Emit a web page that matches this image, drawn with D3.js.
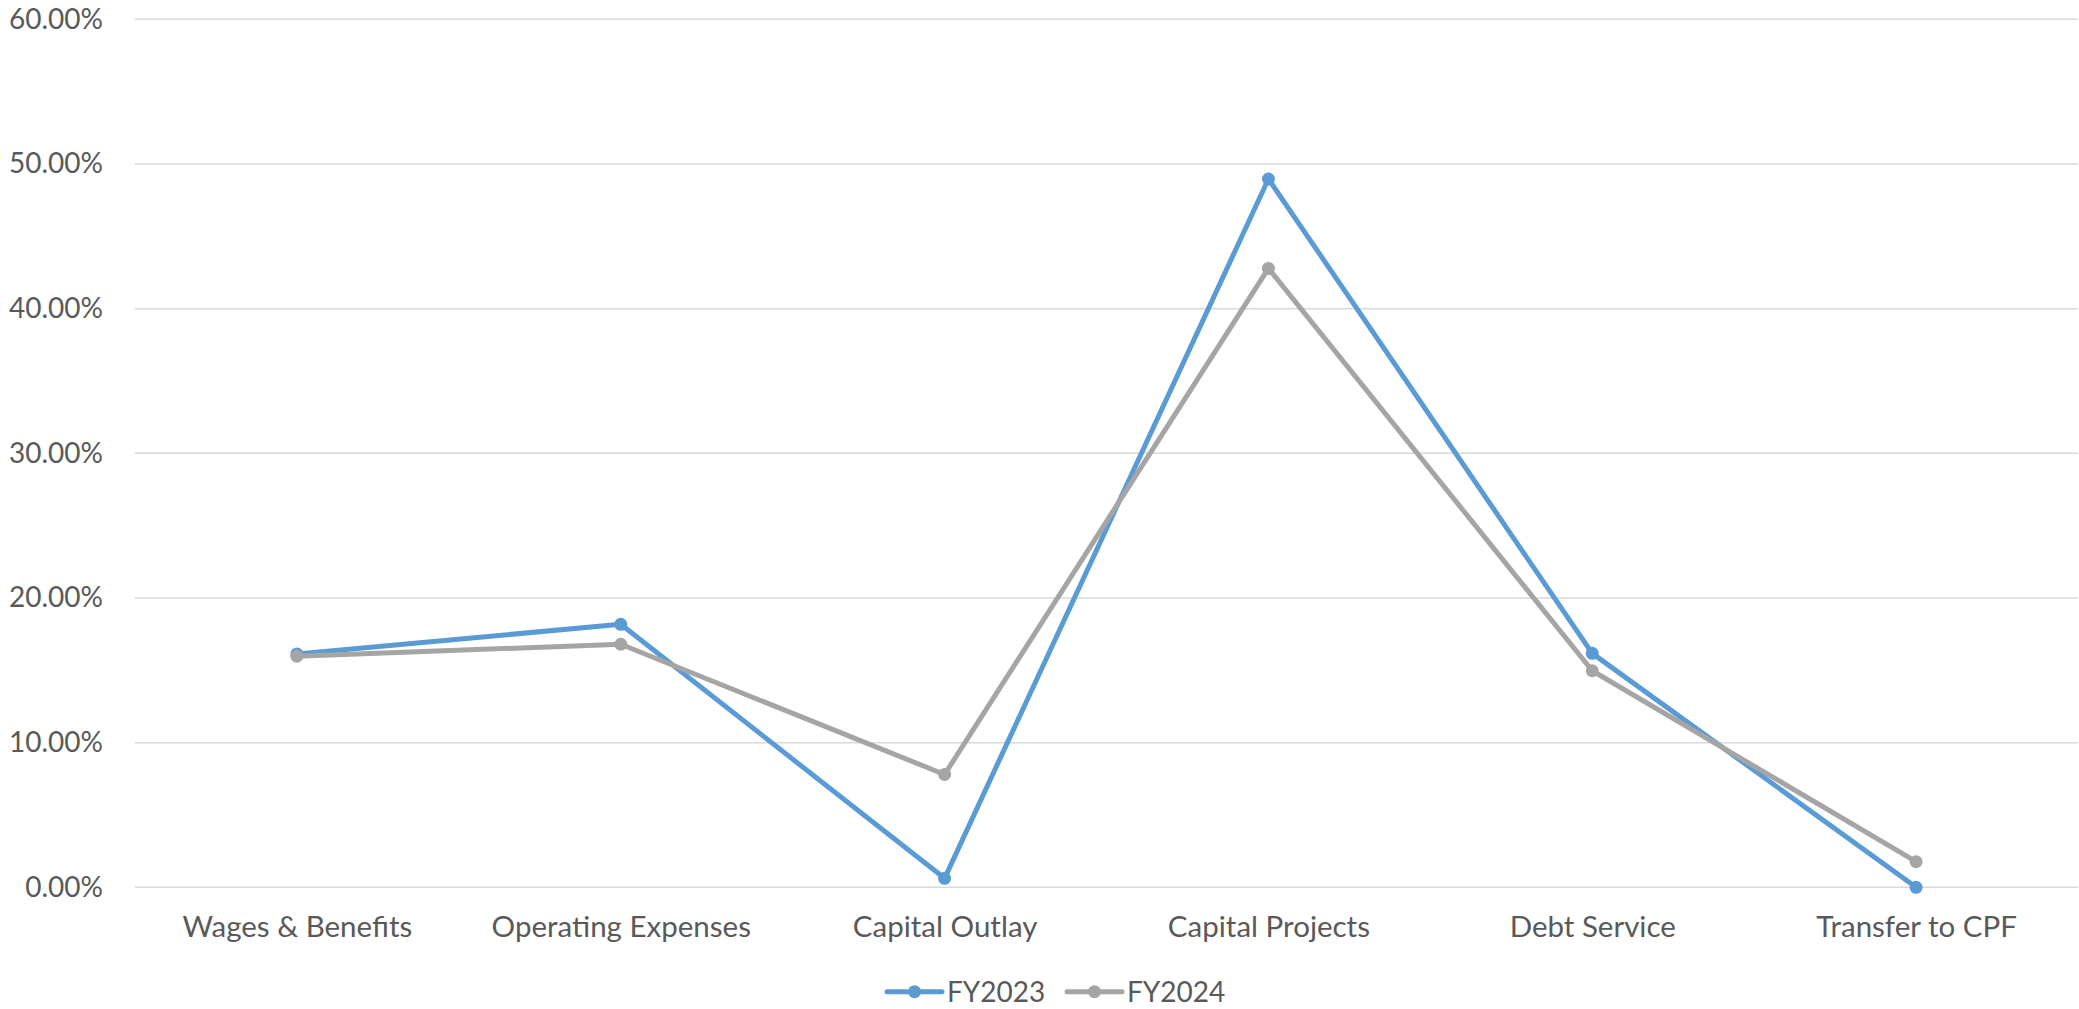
<!DOCTYPE html>
<html>
<head>
<meta charset="utf-8">
<script src="https://cdn.jsdelivr.net/npm/d3@7"></script>
<style>
  html, body { margin: 0; padding: 0; background: #fff; }
  svg { display: block; }
  text { font-family: Lato, "Open Sans", sans-serif; fill: #595959; }
</style>
</head>
<body>
<svg id="chart" width="2079" height="1009"></svg>
<script>
// Share of spending by category, two fiscal years
const categories = ["Wages & Benefits", "Operating Expenses", "Capital Outlay", "Capital Projects", "Debt Service", "Transfer to CPF"];
const fy2023 = [0.1613, 0.1818, 0.0062, 0.4896, 0.1617, 0.0000];
const fy2024 = [0.1597, 0.1680, 0.0780, 0.4278, 0.1497, 0.0177];
const seriesNames = ["FY2023", "FY2024"];
const seriesColors = ["#5B9BD5", "#A5A5A5"];
const yTicks = [0, 0.1, 0.2, 0.3, 0.4, 0.5, 0.6];

const svg = d3.select("#chart");
const plotLeft = 135, plotRight = 2078, plotTop = 19.3, plotBottom = 887.3;

const x = d3.scalePoint().domain(categories).range([plotLeft, plotRight]).padding(0.5);
const y = d3.scaleLinear().domain([0, 0.6]).range([plotBottom, plotTop]);
const fmt = d3.format(".2%");

// horizontal gridlines
svg.append("g")
  .selectAll("line")
  .data(yTicks)
  .join("line")
  .attr("x1", plotLeft).attr("x2", plotRight)
  .attr("y1", d => y(d)).attr("y2", d => y(d))
  .attr("stroke", "#D9D9D9")
  .attr("stroke-width", 1.5);

// y axis labels
const yAxis = svg.append("g")
  .attr("transform", `translate(${plotLeft},0)`)
  .call(d3.axisLeft(y).tickValues(yTicks).tickFormat(fmt).tickSize(0).tickPadding(32));
yAxis.select(".domain").remove();
yAxis.selectAll("text")
  .attr("font-size", 28)
  .attr("font-family", "Lato, 'Open Sans', sans-serif")
  .attr("fill", "#595959");

// category labels
const xAxis = svg.append("g")
  .attr("transform", `translate(0,${plotBottom})`)
  .call(d3.axisBottom(x).tickSize(0).tickPadding(29));
xAxis.select(".domain").remove();
xAxis.selectAll("text")
  .attr("font-size", 29.5)
  .attr("font-family", "Lato, 'Open Sans', sans-serif")
  .attr("fill", "#595959");

// series lines and markers
const series = [fy2023, fy2024];
const line = d3.line()
  .x((d, i) => x(categories[i]))
  .y(d => y(d));

series.forEach((vals, s) => {
  const g = svg.append("g");
  g.append("path")
    .datum(vals)
    .attr("d", line)
    .attr("fill", "none")
    .attr("stroke", seriesColors[s])
    .attr("stroke-width", 5)
    .attr("stroke-linejoin", "round")
    .attr("stroke-linecap", "round");
  g.selectAll("circle")
    .data(vals)
    .join("circle")
    .attr("cx", (d, i) => x(categories[i]))
    .attr("cy", d => y(d))
    .attr("r", 6.5)
    .attr("fill", seriesColors[s]);
});

// legend
const legend = svg.append("g").attr("transform", "translate(887,991.7)");
const legendStep = 180;
seriesNames.forEach((name, s) => {
  const g = legend.append("g").attr("transform", `translate(${s * legendStep},0)`);
  g.append("line")
    .attr("x1", 0).attr("x2", 55)
    .attr("y1", 0).attr("y2", 0)
    .attr("stroke", seriesColors[s])
    .attr("stroke-width", 5)
    .attr("stroke-linecap", "round");
  g.append("circle")
    .attr("cx", 27.5).attr("cy", 0).attr("r", 6.5)
    .attr("fill", seriesColors[s]);
  g.append("text")
    .attr("x", 60).attr("y", 0)
    .attr("dy", "0.35em")
    .attr("font-size", 28)
    .text(name);
});
</script>
</body>
</html>
